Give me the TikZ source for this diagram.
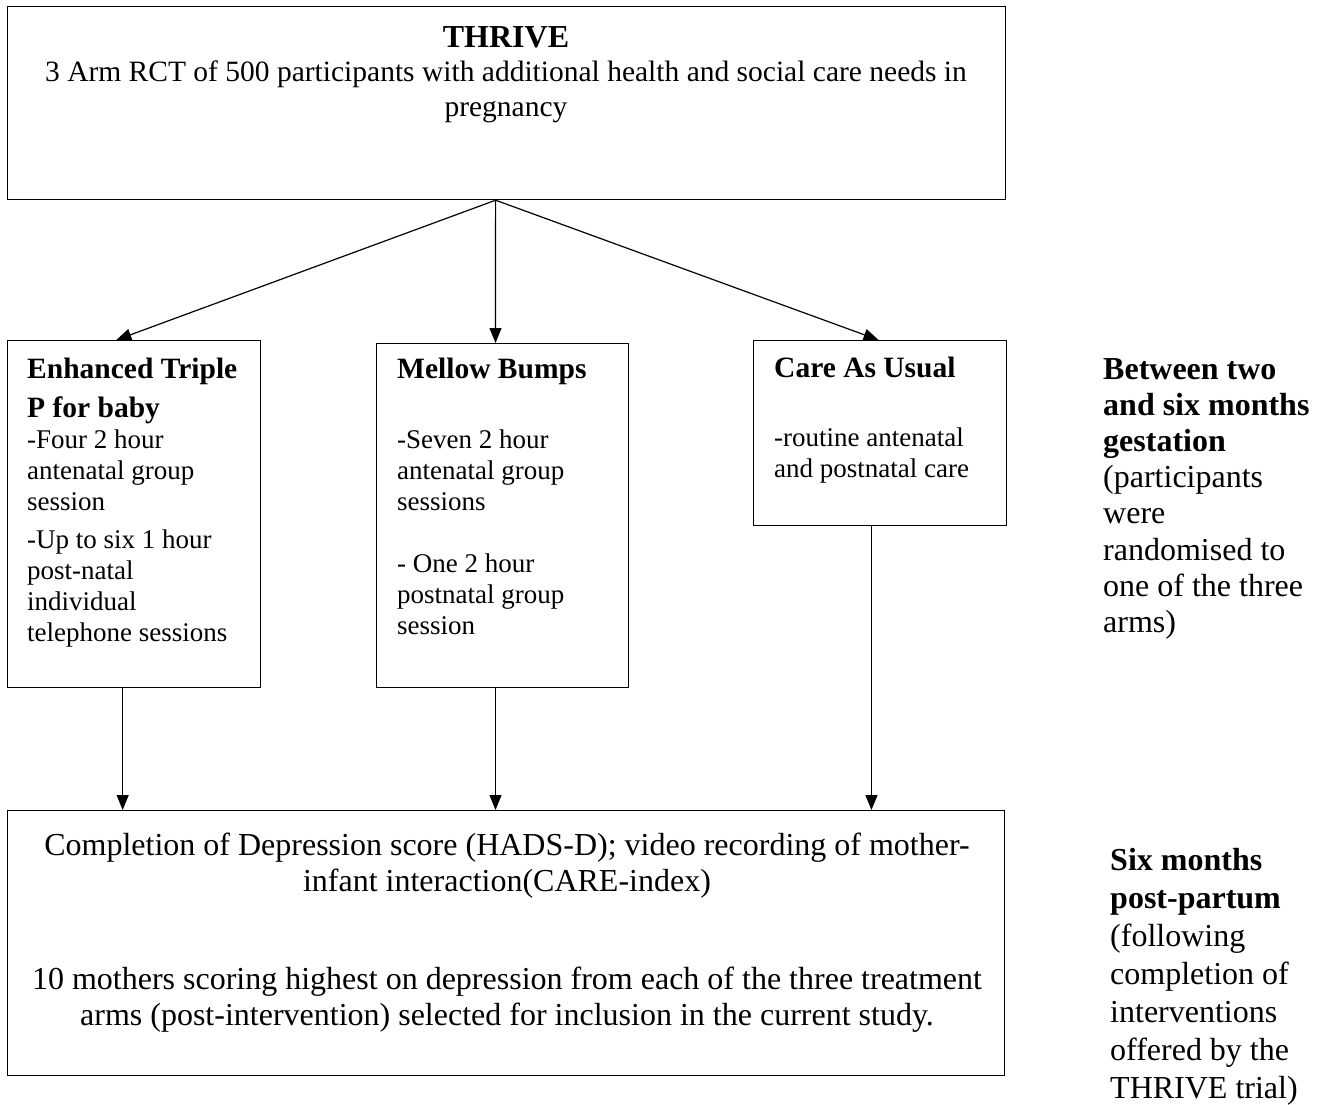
\documentclass[tikz,border=0pt]{standalone}
\usepackage{fontspec}
\setmainfont{Liberation Serif}
\usepackage{tikz}
\usetikzlibrary{arrows.meta,positioning,calc}
\newcommand{\armhead}[1]{{\fontsize{29.5}{31}\selectfont\bfseries #1}}

\begin{document}
\begin{tikzpicture}[x=1pt, y=-1pt,
    box/.style={rectangle, draw=black, line width=1.2pt, anchor=north west, inner sep=0pt},
    boxtext/.style={anchor=north west, inner sep=0pt, align=left, font=\fontsize{27}{31}\selectfont},
    sidetext/.style={anchor=north west, inner sep=0pt, align=left},
    arrow/.style={-{Triangle[length=15pt, width=12pt]}, line width=1.2pt}
]
    \useasboundingbox (0,0) rectangle (1326,1104);

    % boxes
    \node[box, minimum width=998pt, minimum height=193pt] (thrive) at (7,6) {};
    \node[box, minimum width=253pt, minimum height=347pt] (etpb) at (7,340) {};
    \node[box, minimum width=252pt, minimum height=344pt] (mellow) at (376,343) {};
    \node[box, minimum width=253pt, minimum height=185pt] (cau) at (753,340) {};
    \node[box, minimum width=997pt, minimum height=265pt] (outcome) at (7,810) {};

    % texts
    \node[anchor=north, inner sep=0pt, align=center, font=\fontsize{29.5}{34.5}\selectfont] (thrivetext) at (506,26)
        {{\fontsize{32}{34.5}\selectfont\bfseries THRIVE}\\ 3 Arm RCT of 500 participants with additional health and social care needs in\\ pregnancy};
    \node[boxtext] (etpbtext) at (27,358)
        {\armhead{Enhanced Triple}\\[8pt] \armhead{P for baby}\\ -Four 2 hour\\ antenatal group\\ session\\[7pt]
         -Up to six 1 hour\\ post-natal\\ individual\\ telephone sessions};
    \node[boxtext] (mellowtext) at (397,358)
        {\armhead{Mellow Bumps}\\[39pt] -Seven 2 hour\\ antenatal group\\ sessions\\[31pt]
         - One 2 hour\\ postnatal group\\ session};
    \node[boxtext] (cautext) at (774,357)
        {\armhead{Care As Usual}\\[38pt] -routine antenatal\\ and postnatal care};
    \node[anchor=north, inner sep=0pt, align=center, font=\fontsize{32}{36}\selectfont] (outcometext) at (507,833)
        {Completion of Depression score (HADS-D); video recording of mother-\\ infant interaction(CARE-index)\\[62pt]
         10 mothers scoring highest on depression from each of the three treatment\\
         arms (post-intervention) selected for inclusion in the current study.};
    \node[sidetext, font=\fontsize{32}{36.2}\selectfont] (gestnote) at (1103,358)
        {\textbf{Between two}\\ \textbf{and six months}\\ \textbf{gestation}\\ (participants\\ were\\
         randomised to\\ one of the three\\ arms)};
    \node[sidetext, font=\fontsize{32}{38}\selectfont] (ppnote) at (1110,848)
        {\textbf{Six months}\\ \textbf{post-partum}\\ (following\\ completion of\\ interventions\\
         offered by the\\ THRIVE trial)};

    % connectors
    \coordinate (thriveout) at ($(thrive.south west)!.489!(thrive.south east)$);
    \coordinate (etpbin) at ($(etpb.north west)!.43!(etpb.north east)$);
    \coordinate (mellowin) at ($(mellow.north west)!.472!(mellow.north east)$);
    \coordinate (cauin) at ($(cau.north west)!.494!(cau.north east)$);
    \coordinate (etpbout) at ($(etpb.south west)!.455!(etpb.south east)$);
    \coordinate (mellowout) at ($(mellow.south west)!.472!(mellow.south east)$);
    \coordinate (cauout) at ($(cau.south west)!.466!(cau.south east)$);

    \draw[arrow] (thriveout) -- (etpbin);
    \draw[arrow] (thriveout) -- (mellowin);
    \draw[arrow] (thriveout) -- (cauin);
    \draw[arrow] (etpbout) -- (etpbout |- outcome.north);
    \draw[arrow] (mellowout) -- (mellowout |- outcome.north);
    \draw[arrow] (cauout) -- (cauout |- outcome.north);
\end{tikzpicture}
\end{document}
